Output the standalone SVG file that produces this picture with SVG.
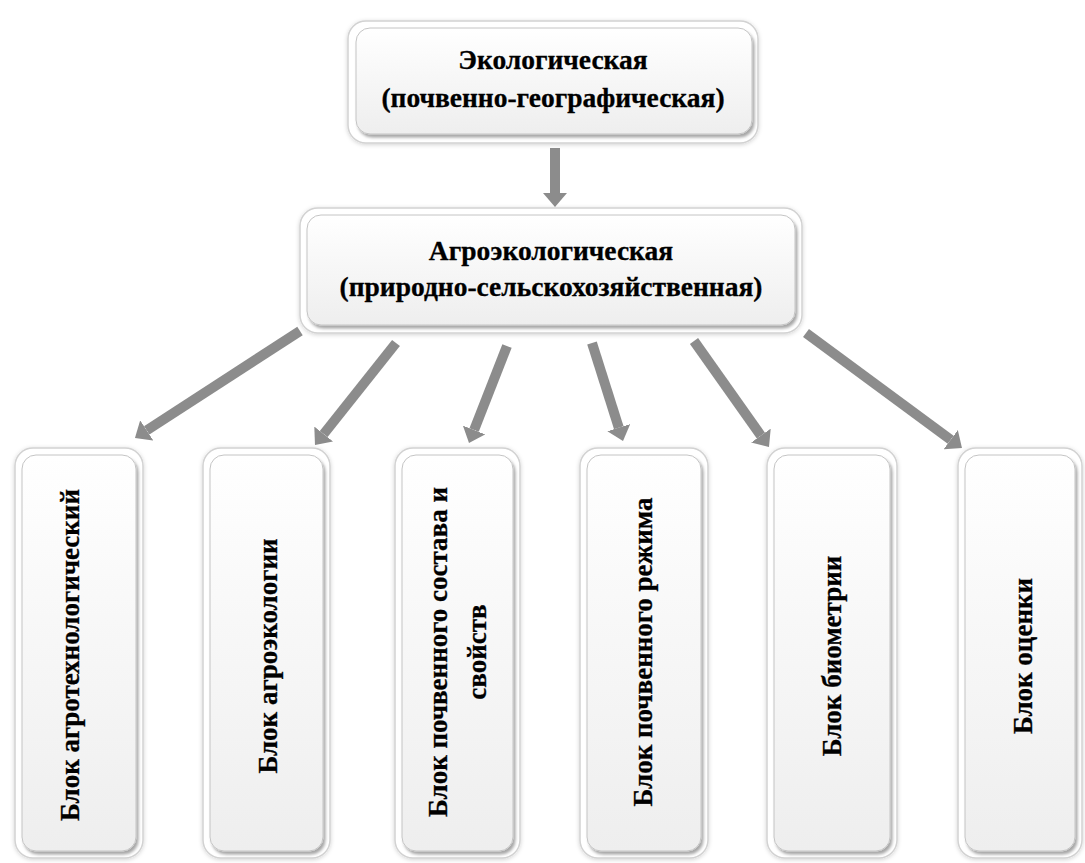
<svg xmlns="http://www.w3.org/2000/svg" width="1085" height="863" viewBox="0 0 1085 863">
<defs>
<style>
.outer{fill:#ffffff;stroke:#d2d2d2;stroke-width:1.5;filter:url(#soft)}
.inner{fill:url(#grad);stroke:#c4c4c4;stroke-width:1;filter:url(#shadow)}
.t{font-family:"Liberation Serif","Times New Roman",serif;font-weight:bold;font-size:27px;fill:#000;stroke:#000;stroke-width:0.3;text-anchor:middle}
.h{font-size:27.5px}
.arr{stroke:#8c8c8c;stroke-width:10;fill:none;marker-end:url(#head)}
</style>
<linearGradient id="grad" x1="0" y1="0" x2="0" y2="1">
<stop offset="0" stop-color="#ffffff"/>
<stop offset="1" stop-color="#eeeeee"/>
</linearGradient>
<filter id="soft" x="-10%" y="-10%" width="120%" height="120%">
<feDropShadow dx="0" dy="1" stdDeviation="2" flood-color="#000" flood-opacity="0.18"/>
</filter>
<filter id="shadow" x="-10%" y="-10%" width="120%" height="120%">
<feDropShadow dx="2" dy="3" stdDeviation="1.5" flood-color="#000" flood-opacity="0.35"/>
</filter>
<marker id="head" viewBox="0 0 14 24" refX="0" refY="12" markerWidth="14" markerHeight="24" markerUnits="userSpaceOnUse" orient="auto">
<path d="M0,0 L14,12 L0,24 z" fill="#8c8c8c"/>
</marker>
</defs>
<rect width="1085" height="863" fill="#ffffff"/>

<g id="connectors">
<line class="arr" x1="555" y1="148" x2="555" y2="193"/>
<line class="arr" x1="300" y1="331" x2="146.7" y2="430.4"/>
<line class="arr" x1="396" y1="343" x2="323.7" y2="434"/>
<line class="arr" x1="507" y1="346" x2="474.1" y2="430"/>
<line class="arr" x1="592" y1="343" x2="618.8" y2="427.7"/>
<line class="arr" x1="694" y1="341" x2="760.9" y2="435.6"/>
<line class="arr" x1="806" y1="333" x2="950.7" y2="439.7"/>
</g>

<g id="node-ecological">
<rect class="outer" x="348" y="21" width="410" height="122" rx="18"/>
<rect class="inner" x="356" y="28" width="396" height="106" rx="14"/>
<text class="t h" x="553" y="69">Экологическая</text>
<text class="t h" x="553" y="107">(почвенно-географическая)</text>
</g>

<g id="node-agroecological">
<rect class="outer" x="300" y="208" width="502" height="125" rx="18"/>
<rect class="inner" x="307" y="215" width="488" height="110" rx="14"/>
<text class="t h" x="551" y="260">Агроэкологическая</text>
<text class="t h" x="551" y="296">(природно-сельскохозяйственная)</text>
</g>

<g id="node-block1">
<rect class="outer" x="15" y="448" width="128" height="410" rx="18"/>
<rect class="inner" x="22" y="455" width="114" height="396" rx="14"/>
<text class="t" transform="translate(79,655) rotate(-90)">Блок агротехнологический</text>
</g>

<g id="node-block2">
<rect class="outer" x="203" y="448" width="127" height="410" rx="18"/>
<rect class="inner" x="210" y="455" width="113" height="396" rx="14"/>
<text class="t" transform="translate(277,656) rotate(-90)">Блок агроэкологии</text>
</g>

<g id="node-block3">
<rect class="outer" x="395" y="448" width="125" height="410" rx="18"/>
<rect class="inner" x="402" y="455" width="111" height="396" rx="14"/>
<text class="t" transform="translate(447,652) rotate(-90)">Блок почвенного состава и</text>
<text class="t" transform="translate(486,652) rotate(-90)">свойств</text>
</g>

<g id="node-block4">
<rect class="outer" x="580" y="448" width="128" height="410" rx="18"/>
<rect class="inner" x="587" y="455" width="114" height="396" rx="14"/>
<text class="t" transform="translate(652,652) rotate(-90)">Блок почвенного режима</text>
</g>

<g id="node-block5">
<rect class="outer" x="767" y="448" width="130" height="410" rx="18"/>
<rect class="inner" x="774" y="455" width="116" height="396" rx="14"/>
<text class="t" transform="translate(841,656) rotate(-90)">Блок биометрии</text>
</g>

<g id="node-block6">
<rect class="outer" x="958" y="448" width="124" height="410" rx="18"/>
<rect class="inner" x="965" y="455" width="110" height="396" rx="14"/>
<text class="t" transform="translate(1032,656) rotate(-90)">Блок оценки</text>
</g>
</svg>
